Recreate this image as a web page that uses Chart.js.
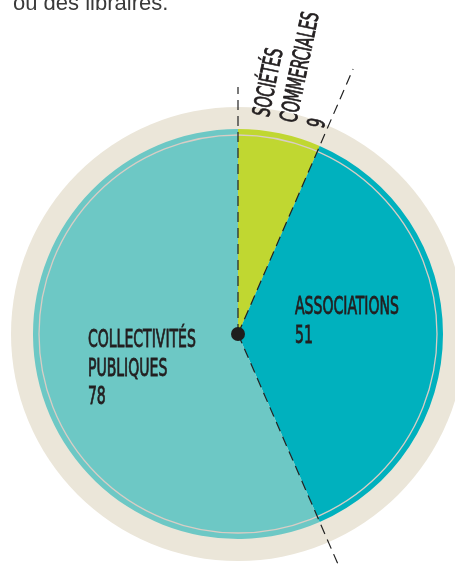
<!DOCTYPE html>
<html>
<head>
<meta charset="utf-8">
<script src="https://cdn.jsdelivr.net/npm/chart.js@4/dist/chart.umd.min.js"></script>
<style>
  html, body { margin: 0; padding: 0; background: #fff; overflow: hidden; }
  #wrap { position: relative; width: 455px; height: 568px; }
  #intro {
    position: absolute; left: 13px; top: -10px;
    font: 22px "Liberation Sans", Arial, sans-serif; color: #3a3a3a;
    white-space: nowrap;
  }
  canvas { position: absolute; left: 0; top: 0; }
</style>
</head>
<body>
<div id="wrap">
  <canvas id="chart" width="455" height="568"></canvas>
  <div id="intro">ou des libraires.</div>
</div>
<script>
  // ============ DATA ============
  let categories = ['SOCIÉTÉS COMMERCIALES', 'ASSOCIATIONS', 'COLLECTIVITÉS PUBLIQUES'];
  let values = [9, 51, 78];
  let labelLines = [
    ['SOCIÉTÉS', 'COMMERCIALES', '9'],
    ['ASSOCIATIONS', '51'],
    ['COLLECTIVITÉS', 'PUBLIQUES', '78']
  ];
  let colors = ['#c0d731', '#00b1be', '#6dc8c5'];

  // ============ PLUGIN ============
  let textFont = '24px "Liberation Sans Narrow", "DejaVu Sans Condensed", "Liberation Sans", sans-serif';
  let squeeze = 0.65;

  let drawLines = (ctx, lines, x, y, lh) => {
    lines.forEach((t, i) => {
      ctx.save();
      ctx.translate(x, y + i * lh);
      ctx.scale(squeeze, 1);
      ctx.fillText(t, 0, 0);
      ctx.strokeText(t, 0, 0);
      ctx.restore();
    });
  };

  let decor = {
    id: 'decor',
    beforeDatasetsDraw(chart) {
      let arc = chart.getDatasetMeta(0).data[0];
      let { x, y, outerRadius } = arc;
      let ctx = chart.ctx;
      ctx.save();
      ctx.fillStyle = '#ebe6d9';
      ctx.beginPath();
      ctx.arc(x, y, outerRadius + 22, 0, Math.PI * 2);
      ctx.fill();
      ctx.restore();
    },
    afterDatasetsDraw(chart) {
      let arcs = chart.getDatasetMeta(0).data;
      let { x, y, outerRadius: r } = arcs[0];
      let ctx = chart.ctx;
      ctx.save();

      // thin inner ring
      ctx.strokeStyle = '#d8cdc5';
      ctx.lineWidth = 1.3;
      ctx.beginPath();
      ctx.arc(x, y, r - 6, 0, Math.PI * 2);
      ctx.stroke();

      // dashed radial lines at slice boundaries
      let reach = [r + 42, r + 84, r + 80];
      ctx.strokeStyle = '#222';
      ctx.lineWidth = 1.2;
      ctx.setLineDash([10, 6]);
      arcs.forEach((a, i) => {
        let ang = a.startAngle;
        ctx.beginPath();
        ctx.moveTo(x, y);
        ctx.lineTo(x + Math.cos(ang) * reach[i], y + Math.sin(ang) * reach[i]);
        ctx.stroke();
      });
      ctx.setLineDash([]);

      // centre dot
      ctx.fillStyle = '#1e1e1e';
      ctx.beginPath();
      ctx.arc(x, y, 7, 0, Math.PI * 2);
      ctx.fill();

      // labels
      ctx.fillStyle = '#231f20';
      ctx.strokeStyle = '#231f20';
      ctx.lineWidth = 0.8;
      ctx.font = textFont;
      ctx.textBaseline = 'alphabetic';
      ctx.textAlign = 'left';

      // rotated label for the small slice
      let a0 = arcs[0];
      let mid = (a0.startAngle + a0.endAngle) / 2;
      ctx.save();
      ctx.translate(x, y);
      ctx.rotate(mid);
      drawLines(ctx, labelLines[0], r + 13, -14, 28);
      ctx.restore();

      drawLines(ctx, labelLines[1], x + 0.278 * r, y - 0.10 * r, 29);
      drawLines(ctx, labelLines[2], x - 0.732 * r, y + 0.064 * r, 28.5);

      ctx.restore();
    }
  };

  // ============ CHART ============
  let ctxChart = document.getElementById('chart').getContext('2d');
  let chart = new Chart(ctxChart, {
    type: 'pie',
    data: {
      labels: categories,
      datasets: [{
        data: values,
        backgroundColor: colors,
        borderWidth: 0
      }]
    },
    options: {
      responsive: false,
      animation: false,
      rotation: 0,
      layout: { padding: { left: 33, right: 12, top: 129, bottom: 29 } },
      plugins: {
        legend: { display: false },
        tooltip: { enabled: false }
      }
    },
    plugins: [decor]
  });
</script>
</body>
</html>
